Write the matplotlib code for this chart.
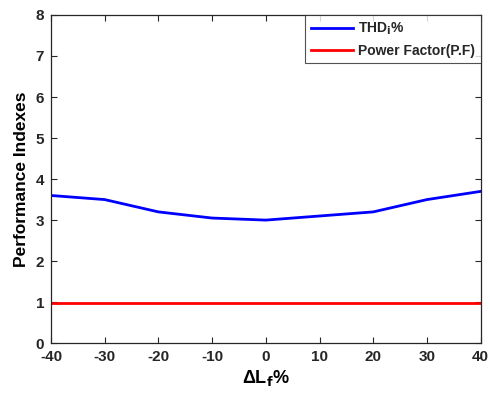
import matplotlib.pyplot as plt

plt.rcParams['font.family'] = ['Liberation Sans', 'DejaVu Sans']
plt.rcParams['font.weight'] = 'bold'
plt.rcParams['mathtext.default'] = 'regular'
plt.rcParams['axes.unicode_minus'] = False
plt.rcParams['text.color'] = '#262626'

# data
delta_lf = [-40, -30, -20, -10, 0, 10, 20, 30, 40]
thd = [3.6, 3.5, 3.2, 3.05, 3.0, 3.1, 3.2, 3.5, 3.7]
pf = [0.99, 0.99, 0.99, 0.99, 0.99, 0.99, 0.99, 0.99, 0.99]

x_ticks = [-40, -30, -20, -10, 0, 10, 20, 30, 40]
y_ticks = [0, 1, 2, 3, 4, 5, 6, 7, 8]

fig = plt.figure(figsize=(4.9, 3.94), dpi=100)
ax = fig.add_axes([0.104, 0.129, 0.877, 0.833])

ax.plot(delta_lf, thd, color='#0000ff', lw=2, label=r'THD$_{\mathbf{i}}$%')
ax.plot(delta_lf, pf, color='#ff0000', lw=2, label='Power Factor(P.F)')

ax.set_xlim(-40, 40)
ax.set_ylim(0, 8)
ax.set_xticks(x_ticks)
ax.set_yticks(y_ticks)
ax.tick_params(direction='in', length=4, width=0.8, labelsize=11,
               top=True, right=True, pad=5, colors='#262626')
for lab in ax.get_xticklabels() + ax.get_yticklabels():
    lab.set_fontweight('bold')
for sp in ax.spines.values():
    sp.set_linewidth(0.9)
    sp.set_color('#262626')

ax.set_xlabel(r'$\Delta$L$_{\mathbf{f}}$%', fontsize=13, fontweight='bold', labelpad=3)
ax.set_ylabel('Performance Indexes', fontsize=12.5, fontweight='bold', labelpad=5)

leg = ax.legend(loc='upper right', fontsize=10, borderaxespad=0, fancybox=False,
                edgecolor='#262626', handlelength=3.0, handletextpad=0.4,
                borderpad=0.4, labelspacing=0.5)
leg.get_frame().set_linewidth(0.8)
for t in leg.get_texts():
    t.set_fontweight('bold')

fig.savefig('out.png', dpi=100)
